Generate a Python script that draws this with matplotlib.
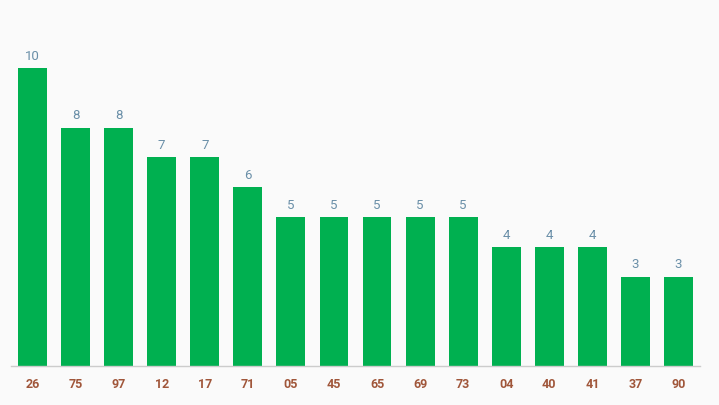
import matplotlib
matplotlib.use("Agg")
import matplotlib.pyplot as plt

categories = ["26", "75", "97", "12", "17", "71", "05", "45", "65", "69", "73", "04", "40", "41", "37", "90"]
counts = [10, 8, 8, 7, 7, 6, 5, 5, 5, 5, 5, 4, 4, 4, 3, 3]

plt.rcParams["font.family"] = ["Roboto", "DejaVu Sans"]

fig = plt.figure(figsize=(7.19, 4.06), dpi=100)
fig.patch.set_facecolor("#fafafa")
ax = fig.add_axes([11 / 719, 39 / 406, 689 / 719, 298 / 406])
ax.set_facecolor("#fafafa")

xs = range(len(categories))
bars = ax.bar(xs, counts, width=0.67, color="#00b050", zorder=2)
for x, v in zip(xs, counts):
    ax.annotate(str(v), (x, v), xytext=(0, 4.5), textcoords="offset points",
                ha="center", va="bottom", fontsize=9.5, color="#6a8fa8",
                annotation_clip=False)

ax.set_xlim(-0.5, len(categories) - 0.5)
ax.set_ylim(0, 10)
ax.set_xticks(list(xs))
ax.set_xticklabels(categories, fontsize=9, fontweight="bold", color="#a0563a")
ax.tick_params(axis="x", length=0, pad=8)
ax.set_yticks([])
for s in ["top", "right", "left"]:
    ax.spines[s].set_visible(False)
ax.spines["bottom"].set_color("#cccccc")
ax.spines["bottom"].set_linewidth(1)

fig.savefig("out.png", dpi=100, facecolor=fig.get_facecolor())
